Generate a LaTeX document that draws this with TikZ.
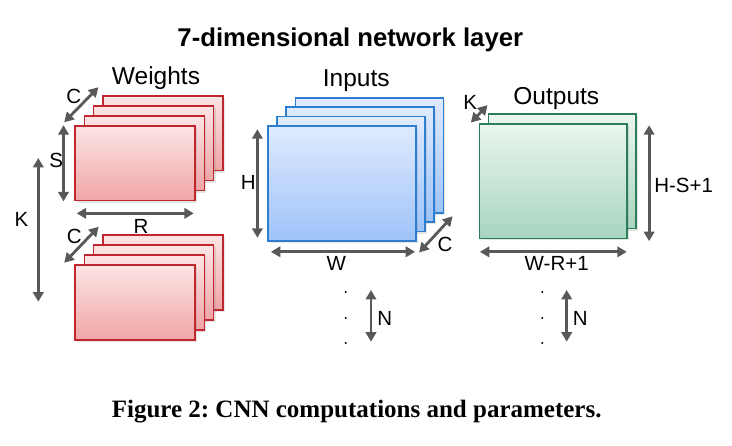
\documentclass[tikz,border=0pt]{standalone}
\usepackage{fontspec}
\setmainfont{Liberation Sans}
\newfontfamily\captionserif{Liberation Serif}
\usetikzlibrary{arrows.meta,shadows}
\frenchspacing
\definecolor{myred}{RGB}{192,38,45}
\definecolor{myredtop}{RGB}{252,228,228}
\definecolor{myredbot}{RGB}{240,165,166}
\definecolor{myblue}{RGB}{45,126,209}
\definecolor{mybluetop}{RGB}{223,234,254}
\definecolor{mybluebot}{RGB}{158,195,248}
\definecolor{mygreen}{RGB}{43,125,91}
\definecolor{mygreentop}{RGB}{234,245,239}
\definecolor{mygreenbot}{RGB}{168,213,191}
\definecolor{mygray}{RGB}{89,89,89}

\tikzset{
  sheet/.style={draw, line width=1.6pt, inner sep=0pt,
    drop shadow={shadow xshift=2pt,shadow yshift=-2pt,opacity=0.2}},
  wsheet/.style={sheet, draw=myred, top color=myredtop, bottom color=myredbot,
    minimum width=120pt, minimum height=74.5pt},
  isheet/.style={sheet, draw=myblue, top color=mybluetop, bottom color=mybluebot,
    minimum width=148pt, minimum height=115pt},
  osheet/.style={sheet, draw=mygreen, top color=mygreentop, bottom color=mygreenbot,
    minimum width=147.4pt, minimum height=114.3pt},
  dim/.style={{Triangle[length=9.5pt,width=10.5pt]}-{Triangle[length=9.5pt,width=10.5pt]},
    line width=2.8pt, mygray},
  lbl/.style={font=\fontsize{20.5}{24}\selectfont},
  head/.style={font=\fontsize{24.5}{28}\selectfont, anchor=base},
}

\begin{document}
\begin{tikzpicture}[x=1pt,y=-1pt]
\useasboundingbox (0,0) rectangle (732,446);

\node[font=\bfseries\fontsize{25.7}{30}\selectfont, anchor=base] (title) at (350.3,46.7) {7-dimensional network layer};

% weights, two filter stacks
\foreach \i in {3,2,1,0}{
  \node[wsheet] (wt\i) at ({135+9.3*\i},{163.3-10*\i}) {};
}
\foreach \i in {3,2,1,0}{
  \node[wsheet] (wb\i) at ({135+9.3*\i},{302.5-10*\i}) {};
}
\node[head] (wlabel) at (156,85) {Weights};

\draw[dim] ([shift={(-10pt,3pt)}]wt0.north west) -- ([shift={(-3.7pt,8pt)}]wt3.north west);
\node[lbl] (cw) at (73.7,96) {C};
\draw[dim] ([xshift=-10.7pt]wt0.north west) -- ([xshift=-10.7pt]wt0.south west);
\node[lbl] (sw) at (56.3,160.3) {S};
\draw[dim] ([shift={(2.5pt,-12pt)}]wt0.south west) -- ([shift={(-2pt,-12pt)}]wt0.south east);
\node[lbl] (rw) at (141,226) {R};
\draw[dim] ([shift={(-10pt,1.7pt)}]wb0.north west) -- ([shift={(-3.4pt,7.7pt)}]wb3.north west);
\node[lbl] (cb) at (74.3,236.3) {C};

\coordinate (ktop) at (38.3,158);
\coordinate (kbot) at (38.3,301.7);
\draw[dim] (ktop) -- (kbot);
\node[lbl] (kw) at (21.5,219) {K};

% inputs
\foreach \i in {3,2,1,0}{
  \node[isheet] (in\i) at ({341.7+9.2*\i},{183.5-9.4*\i}) {};
}
\node[head] (ilabel) at (356.3,86.7) {Inputs};

\draw[dim] ([shift={(-9.5pt,-4pt)}]in0.north west) -- ([shift={(-9.5pt,4pt)}]in0.south west);
\node[lbl] (hi) at (248.3,182.5) {H};
\draw[dim] ([shift={(4pt,-10pt)}]in0.south west) -- ([shift={(-1.4pt,-10pt)}]in0.south east);
\node[lbl] (wi) at (336.3,263.7) {W};
\draw[dim] ([shift={(2.6pt,-10.7pt)}]in0.south east) -- ([shift={(8.4pt,-2.7pt)}]in3.south east);
\node[lbl] (ci) at (445,244.7) {C};

% outputs
\foreach \i in {1,0}{
  \node[osheet] (out\i) at ({553+9*\i},{181.2-9.8*\i}) {};
}
\node[head] (olabel) at (556.3,105) {Outputs};

\draw[dim] ([shift={(-7.6pt,0.7pt)}]out0.north west) -- ([yshift=8.3pt]out1.north west);
\node[lbl] (ko) at (470.3,102.5) {K};
\draw[dim] ([shift={(21.6pt,-2pt)}]out0.north east) -- ([shift={(21.6pt,-2pt)}]out0.south east);
\node[lbl] (ho) at (683.7,185.8) {H-S+1};
\draw[dim] ([shift={(1.4pt,-12.7pt)}]out0.south west) -- ([shift={(-0.7pt,-12.7pt)}]out0.south east);
\node[lbl] (wo) at (556.7,263.3) {W-R+1};

% batch dimension
\foreach \y in {292,318,343}{
  \fill (345.7,\y) circle (1.1pt);
  \fill (542.3,\y) circle (1.1pt);
}
\coordinate (nitop) at (371,290);
\coordinate (nibot) at (371,341.7);
\draw[dim] (nitop) -- (nibot);
\node[lbl] (ni) at (384.7,318.3) {N};
\coordinate (notop) at (566.7,290);
\coordinate (nobot) at (566.7,341.7);
\draw[dim] (notop) -- (nobot);
\node[lbl] (no) at (580.3,318.3) {N};

\node[font=\captionserif\bfseries\fontsize{25}{30}\selectfont, anchor=base] (caption) at (356.7,418) {Figure 2: CNN computations and parameters.};

\end{tikzpicture}
\end{document}
